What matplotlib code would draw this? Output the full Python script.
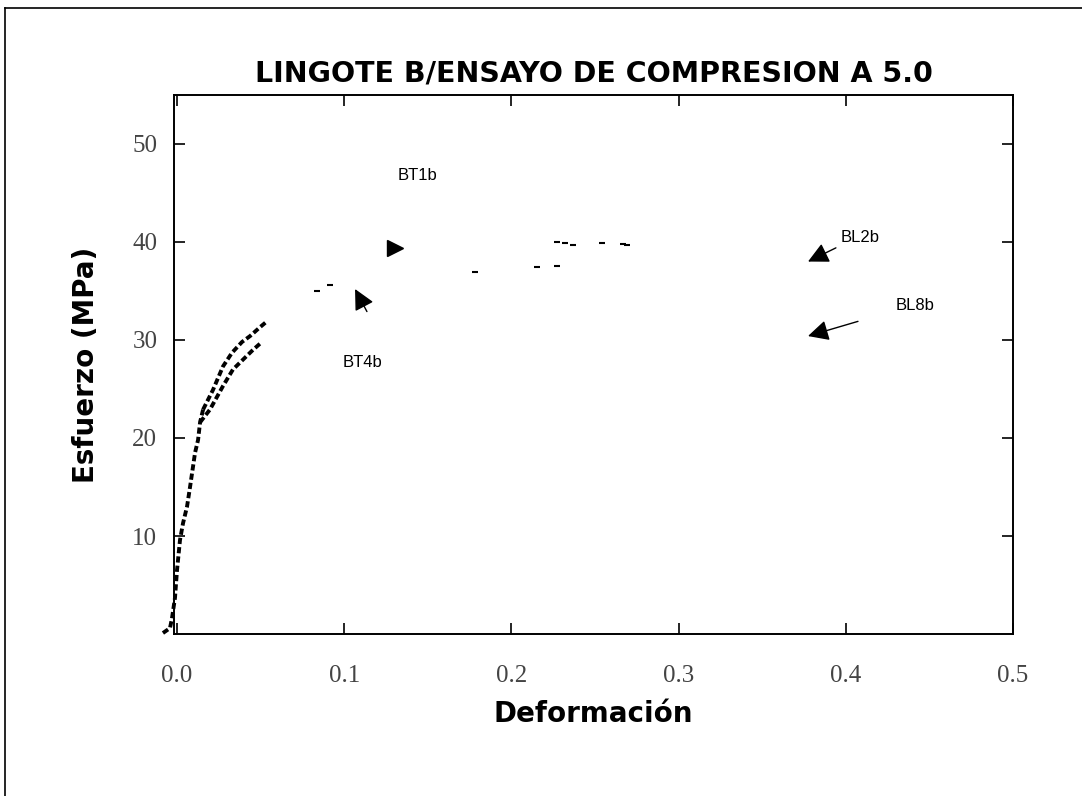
import matplotlib.pyplot as plt
from matplotlib.lines import Line2D

# ensayo de compresion, lingote B: deformacion vs esfuerzo (MPa)
# tramo inicial comun de las probetas
base_def = [-0.0084, -0.0042, -0.0030, -0.0012, 0.0, 0.0018, 0.0036, 0.0060,
            0.0078, 0.0096, 0.0108, 0.0126, 0.0138, 0.0156]
base_esf = [0.1, 0.6, 1.6, 3.7, 6.5, 9.6, 11.3, 13.0,
            15.0, 17.1, 18.5, 19.8, 21.6, 22.9]

# rama superior
sup_def = [0.0156, 0.0215, 0.0275, 0.0329, 0.0389, 0.0437, 0.0496, 0.0538]
sup_esf = [22.9, 24.9, 27.3, 28.7, 29.8, 30.4, 31.3, 31.9]

# rama inferior
inf_def = [0.0138, 0.0197, 0.0275, 0.0335, 0.0395, 0.0455, 0.0508]
inf_esf = [21.6, 22.9, 25.3, 27.0, 28.0, 29.0, 29.8]

# puntos sueltos del resto de las curvas
sueltos_def = [0.0837, 0.0915, 0.178, 0.2153, 0.2273, 0.2273, 0.232, 0.2368,
               0.2542, 0.2667, 0.269]
sueltos_esf = [35.0, 35.6, 36.9, 37.4, 37.5, 40.0, 39.9, 39.7, 39.9, 39.8, 39.7]

# etiquetas de las probetas
etiquetas = ['BT1b', 'BT4b', 'BL2b', 'BL8b']
etq_x = [0.1441, 0.1112, 0.4085, 0.4414]
etq_y = [46.8, 27.7, 40.5, 33.5]
# flechas: punta y cola
flecha_punta = [(0.1065, 35.2), (0.3774, 38.0), (0.3774, 30.4)]
flecha_cola = [(0.1136, 32.9), (0.3941, 39.4), (0.4073, 31.9)]
bt1b_punta = (0.1304, 39.4)

xticks = [0.0, 0.1, 0.2, 0.3, 0.4, 0.5]
xtick_labels = ['0.0', '0.1', '0.2', '0.3', '0.4', '0.5']
yticks = [10, 20, 30, 40, 50]
ytick_labels = ['10', '20', '30', '40', '50']

fig = plt.figure(figsize=(10.82, 7.96), dpi=100)
ax = fig.add_axes([0.1608, 0.2035, 0.7754, 0.6772])

estilo = dict(color='black', lw=2.8, linestyle=(0, (1.6, 0.8)), clip_on=False)
ax.plot(base_def, base_esf, **estilo)
ax.plot(sup_def, sup_esf, **estilo)
ax.plot(inf_def, inf_esf, **estilo)
ax.plot(sueltos_def, sueltos_esf, ls='none', marker='_', ms=5, mew=1.5, color='black')

for t, x, y in zip(etiquetas, etq_x, etq_y):
    ax.text(x, y, t, fontsize=12, family='Liberation Sans', ha='center', va='center')

for p, c in zip(flecha_punta, flecha_cola):
    ax.annotate('', xy=p, xytext=c,
                arrowprops=dict(arrowstyle='-|>,head_length=0.9,head_width=0.45',
                                color='black', lw=1.0, mutation_scale=14,
                                shrinkA=0, shrinkB=0))
ax.plot(*bt1b_punta, marker='>', ms=11, color='black')

ax.set_xlim(-0.0018, 0.5)
ax.set_ylim(0, 55)
ax.set_xticks(xticks)
ax.set_xticklabels(xtick_labels)
ax.set_yticks(yticks)
ax.set_yticklabels(ytick_labels)
ax.tick_params(direction='in', length=8, width=1.2, top=True, right=True,
               labelsize=18, labelcolor='#444444')
ax.tick_params(axis='x', pad=22)
ax.tick_params(axis='y', pad=12)
for lbl in ax.get_xticklabels() + ax.get_yticklabels():
    lbl.set_family('Liberation Serif')
for s in ax.spines.values():
    s.set_linewidth(1.4)

ax.set_title('LINGOTE B/ENSAYO DE COMPRESION A 5.0', fontsize=20.5,
             fontweight='bold', pad=10)
ax.set_xlabel('Deformación', fontsize=20, fontweight='bold')
ax.set_ylabel('Esfuerzo (MPa)', fontsize=20, fontweight='bold')
ax.xaxis.set_label_coords(0.5, -0.122)
ax.yaxis.set_label_coords(-0.088, 0.5)

# marco exterior (borde superior e izquierdo)
fig.add_artist(Line2D([0.0046, 1.0], [0.99, 0.99], color='black', lw=1.2))
fig.add_artist(Line2D([0.0046, 0.0046], [0.0, 0.99], color='black', lw=1.2))

fig.savefig('out.png', dpi=100)
